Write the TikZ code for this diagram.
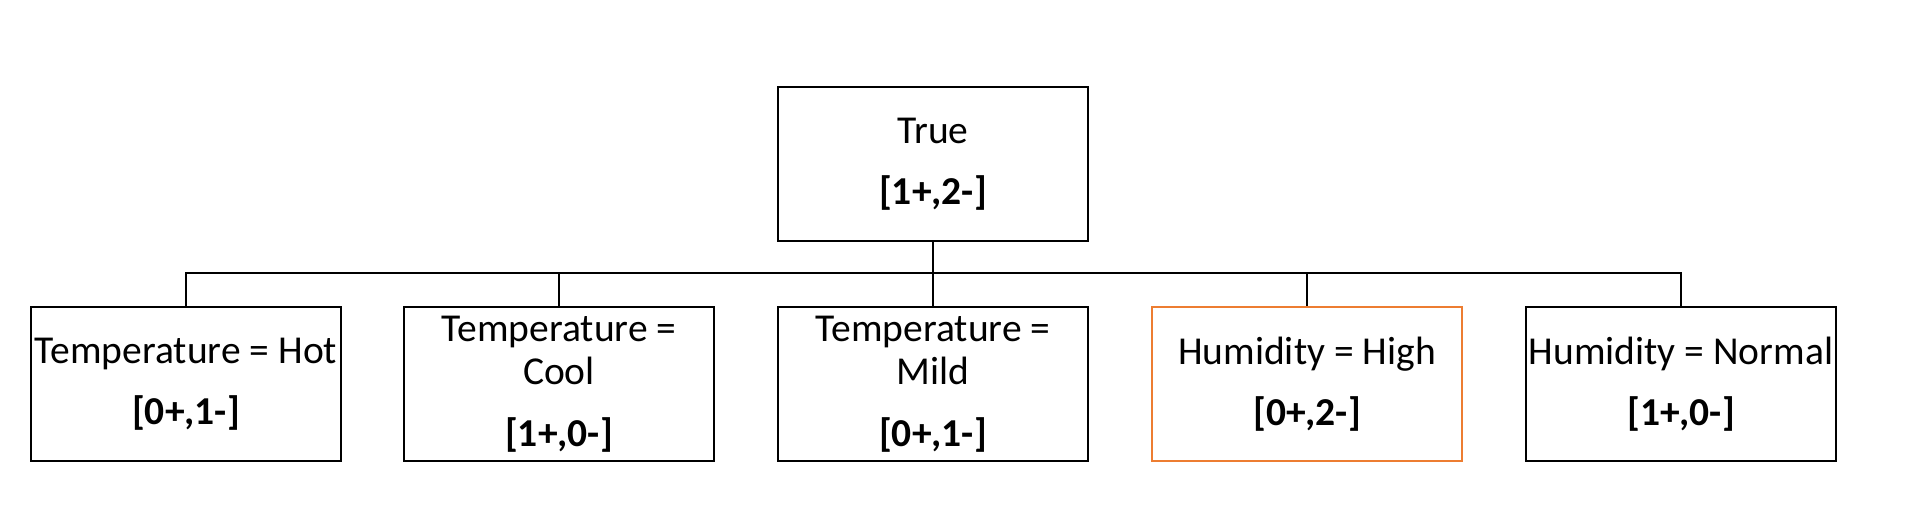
\documentclass[tikz,border=0pt]{standalone}
\usepackage{fontspec}
\setmainfont{Carlito}
\definecolor{pickorange}{RGB}{237,125,49}
\begin{document}
\begin{tikzpicture}[x=0.02cm, y=-0.02cm, line width=1.1pt,
    every node/.style={font=\fontsize{22.5}{25}\selectfont},
    split/.style={draw, line width=1.3pt, minimum width=6.2cm, minimum height=3.08cm, inner sep=0pt, align=center}]
  \useasboundingbox (0,0) rectangle (1906,528);
  % root of the search: the empty hypothesis
  \node[split] (root) at (933,164) {True\\[10pt]\textbf{[1+,2-]}};
  % candidate specialisations, one per attribute test
  \node[split] (temp-hot)  at (186,384)  {Temperature = Hot\\[10pt]\textbf{[0+,1-]}};
  \node[split] (temp-cool) at (559,384)  {Temperature =\\Cool\\[10pt]\textbf{[1+,0-]}};
  \node[split] (temp-mild) at (933,384)  {Temperature =\\Mild\\[10pt]\textbf{[0+,1-]}};
  \node[split, draw=pickorange] (hum-high) at (1307,384) {Humidity = High\\[10pt]\textbf{[0+,2-]}};
  \node[split] (hum-norm)  at (1681,384) {Humidity = Normal\\[10pt]\textbf{[1+,0-]}};
  \coordinate (bar) at (933,273);
  \draw (root.south) -- (root.south |- bar);
  \draw (temp-hot.north) -- (temp-hot.north |- bar) -| (hum-norm.north);
  \foreach \leaf in {temp-cool, temp-mild, hum-high}
    \draw (\leaf.north) -- (\leaf.north |- bar);
\end{tikzpicture}
\end{document}
